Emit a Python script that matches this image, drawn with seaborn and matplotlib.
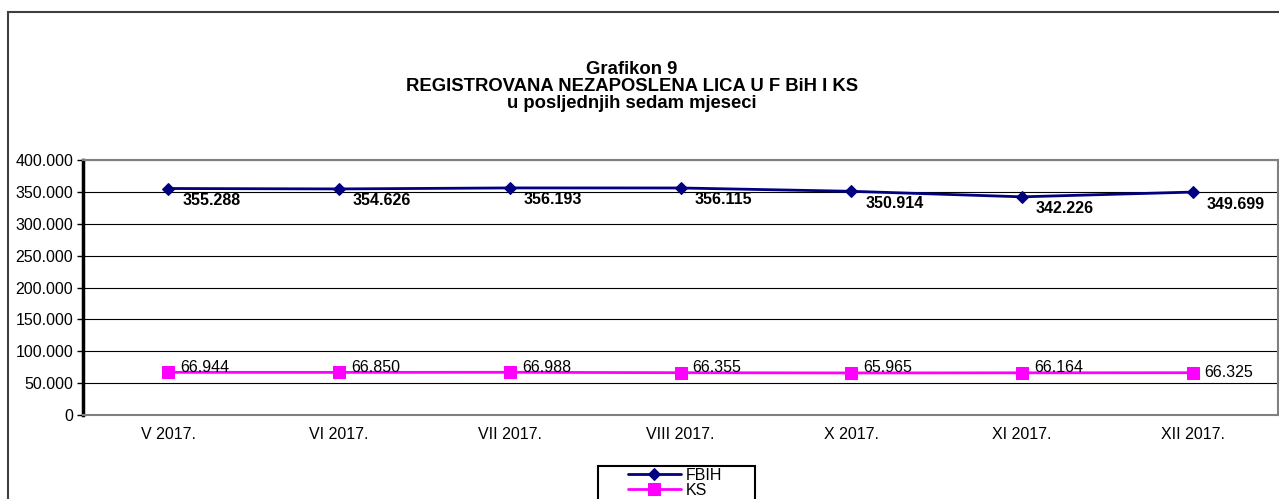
import pandas as pd
import numpy as np
import matplotlib.pyplot as plt
import seaborn as sns
from matplotlib.patches import Rectangle
from matplotlib.ticker import FuncFormatter

# Data
months = ['V 2017.', 'VI 2017.', 'VII 2017.', 'VIII 2017.', 'X 2017.', 'XI 2017.', 'XII 2017.']
fbih = [355288, 354626, 356193, 356115, 350914, 342226, 349699]
ks = [66944, 66850, 66988, 66355, 65965, 66164, 66325]

df = pd.DataFrame({'Mjesec': months, 'FBIH': fbih, 'KS': ks})

sns.set_style("white")
plt.rcParams['font.family'] = ['Liberation Sans', 'DejaVu Sans']
plt.rcParams['text.color'] = 'black'
plt.rcParams['xtick.color'] = 'black'
plt.rcParams['ytick.color'] = 'black'

fig = plt.figure(figsize=(12.79, 4.99), dpi=100)
ax = fig.add_axes([83 / 1279, 84 / 499, 1195 / 1279, 255 / 499])

x = np.arange(len(months))
sns.lineplot(x=x, y=df['FBIH'], ax=ax, color='#000080', marker='D', markersize=8,
             markeredgecolor='#000080', linewidth=2, label='FBIH')
sns.lineplot(x=x, y=df['KS'], ax=ax, color='#FF00FF', marker='s', markersize=10,
             markeredgecolor='#FF00FF', linewidth=2, label='KS')

def fmt(v):
    return f'{v:,.0f}'.replace(',', '.')

# data labels
for i, v in enumerate(fbih):
    ax.annotate(fmt(v), (i, v), xytext=(14, -12), textcoords='offset pixels',
                fontsize=11.5, fontweight='bold', va='center', ha='left')
for i, v in enumerate(ks):
    dy = 0 if i == len(ks) - 1 else 5
    ax.annotate(fmt(v), (i, v), xytext=(12, dy), textcoords='offset pixels',
                fontsize=11.5, va='center', ha='left')

ax.set_xlim(-0.5, len(months) - 0.5)
ax.set_ylim(0, 400000)
ax.set_yticks(np.arange(0, 400001, 50000))
ax.yaxis.set_major_formatter(FuncFormatter(lambda v, p: fmt(v)))
ax.set_xticks(x)
ax.set_xticklabels(months)
ax.grid(axis='y', color='black', linewidth=0.8)
ax.set_axisbelow(True)
ax.tick_params(axis='y', which='both', left=True, length=4, width=1, labelsize=11.5, pad=3)
ax.tick_params(axis='x', bottom=False, labelsize=11.5, pad=5)
ax.set_xlabel('')
ax.set_ylabel('')

ax.spines['left'].set_color('black')
ax.spines['left'].set_linewidth(2.5)
for s in ['bottom', 'right', 'top']:
    ax.spines[s].set_color('#808080')
    ax.spines[s].set_linewidth(1.5)

# legend below the chart
ax.get_legend().remove()
handles, labels = ax.get_legend_handles_labels()
for h in handles:
    h.set_markersize(h.get_markersize() * 0.8)
fig.legend(handles, labels, loc='upper left', bbox_to_anchor=(627 / 1279, 1 - 467 / 499),
           frameon=False, fontsize=11.5, handlelength=3.3,
           borderpad=0.05, labelspacing=0.0, handletextpad=0.3, borderaxespad=0)
fig.patches.append(Rectangle((598 / 1279, -0.05), 157 / 1279, 0.05 + 33 / 499,
                             transform=fig.transFigure, fill=False,
                             edgecolor='black', linewidth=1.5))

title_lines = ['Grafikon 9', 'REGISTROVANA NEZAPOSLENA LICA U F BiH I KS', 'u posljednjih sedam mjeseci']
for k, line in enumerate(title_lines):
    fig.text(632 / 1279, 1 - (70 + 16.5 * k) / 499, line, ha='center', va='center',
             fontsize=13.3, fontweight='bold')

# outer chart frame
fig.patches.append(Rectangle((8 / 1279, -0.05), 1.2, 1 - 12 / 499 + 0.05,
                             transform=fig.transFigure, fill=False,
                             edgecolor='#404040', linewidth=1.5))

fig.savefig('out.png', dpi=100)
